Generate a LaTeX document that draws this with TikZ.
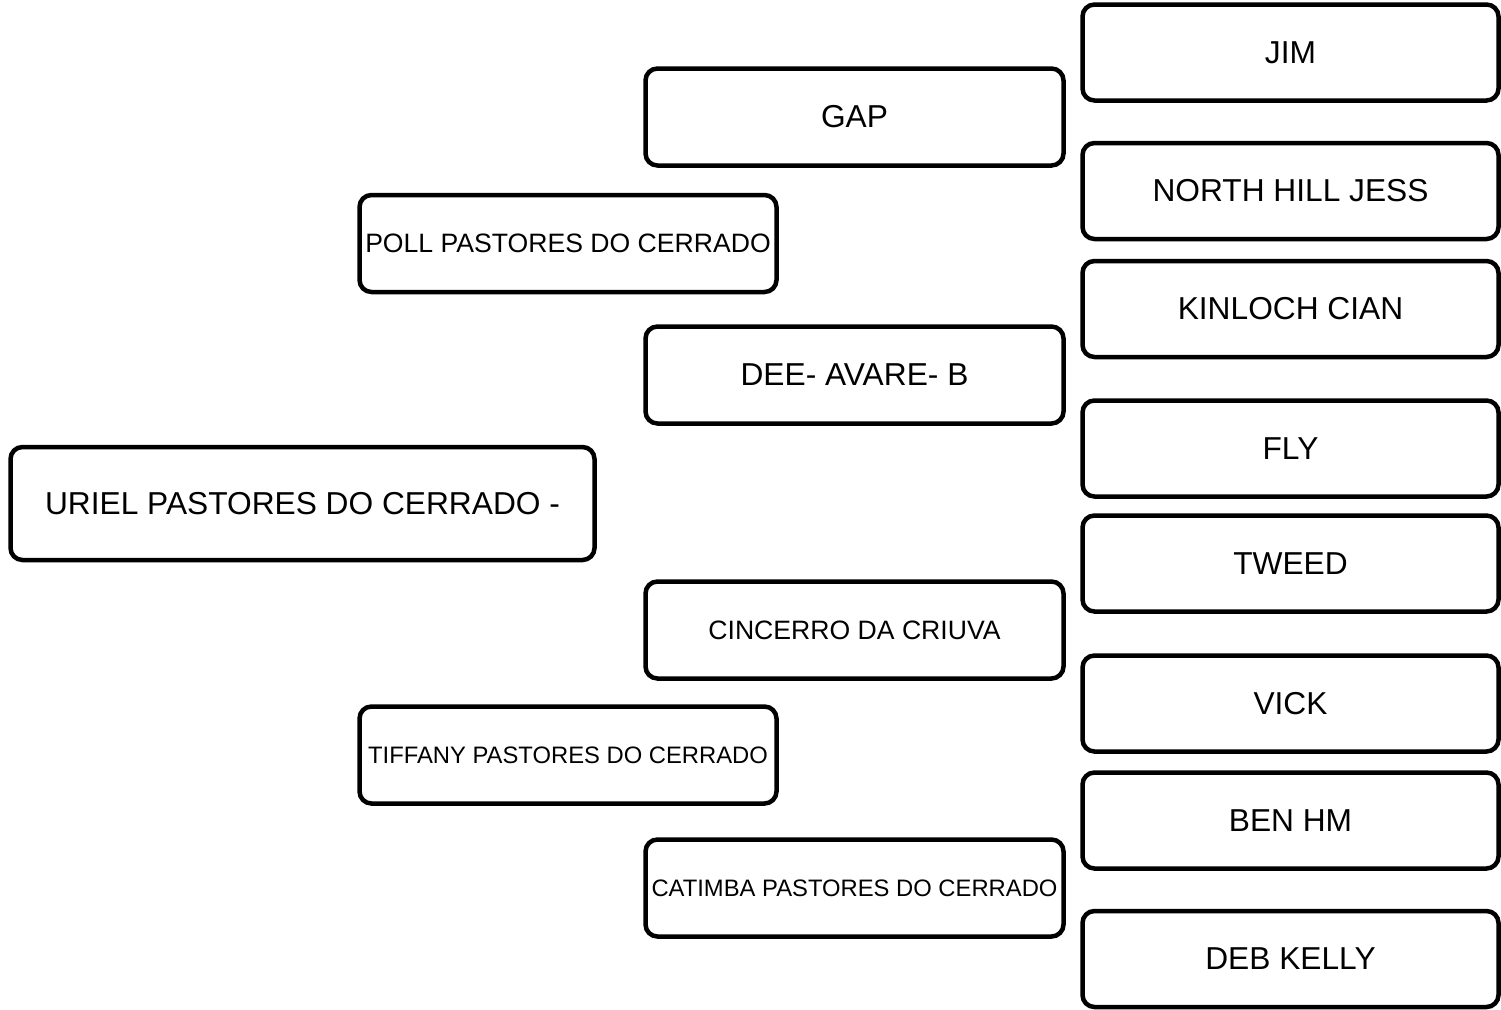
\documentclass[tikz,border=0pt]{standalone}
\usepackage{fontspec}
\setmainfont{Liberation Sans}
\usepackage{tikz}
\usetikzlibrary{positioning}

\begin{document}
\begin{tikzpicture}[
    x=1pt, y=-1pt,
    dog/.style={draw, line width=4.5pt, rounded corners=12pt, fill=white,
        inner sep=0pt, align=center, font=\fontsize{31.7}{38}\selectfont},
    sire/.style={dog, minimum width=584pt, minimum height=113pt},
    gen1/.style={dog, minimum width=417pt, minimum height=97pt},
    gen2/.style={dog, minimum width=418pt, minimum height=97pt},
    gen3/.style={dog, minimum width=416pt, minimum height=96pt},
    midfont/.style={font=\fontsize{26.6}{32}\selectfont},
    tinyfont/.style={font=\fontsize{23.8}{29}\selectfont}
]
    \useasboundingbox (0,0) rectangle (1501,1009);

    % animal
    \node[sire] (uriel) at (302.5,503.5) {URIEL PASTORES DO CERRADO -};

    % parents
    \node[gen1, midfont] (poll) at (568,243.5) {POLL PASTORES DO CERRADO};
    \node[gen1, tinyfont] (tiffany) at (568,755) {TIFFANY PASTORES DO CERRADO};

    % grandparents
    \node[gen2] (gap) at (854.5,117) {GAP};
    \node[gen2] (dee) at (854.5,375) {DEE- AVARE- B};
    \node[gen2, midfont] (cincerro) at (854.5,630) {CINCERRO DA CRIUVA};
    \node[gen2, tinyfont] (catimba) at (854.5,888) {CATIMBA PASTORES DO CERRADO};

    % great-grandparents
    \node[gen3] (jim) at (1290.5,52.5) {JIM};
    \node[gen3] (jess) at (1290.5,191) {NORTH HILL JESS};
    \node[gen3] (cian) at (1290.5,309) {KINLOCH CIAN};
    \node[gen3] (fly) at (1290.5,448.5) {FLY};
    \node[gen3] (tweed) at (1290.5,563.5) {TWEED};
    \node[gen3] (vick) at (1290.5,703.5) {VICK};
    \node[gen3] (benhm) at (1290.5,820.5) {BEN HM};
    \node[gen3] (deb) at (1290.5,959) {DEB KELLY};
\end{tikzpicture}
\end{document}
